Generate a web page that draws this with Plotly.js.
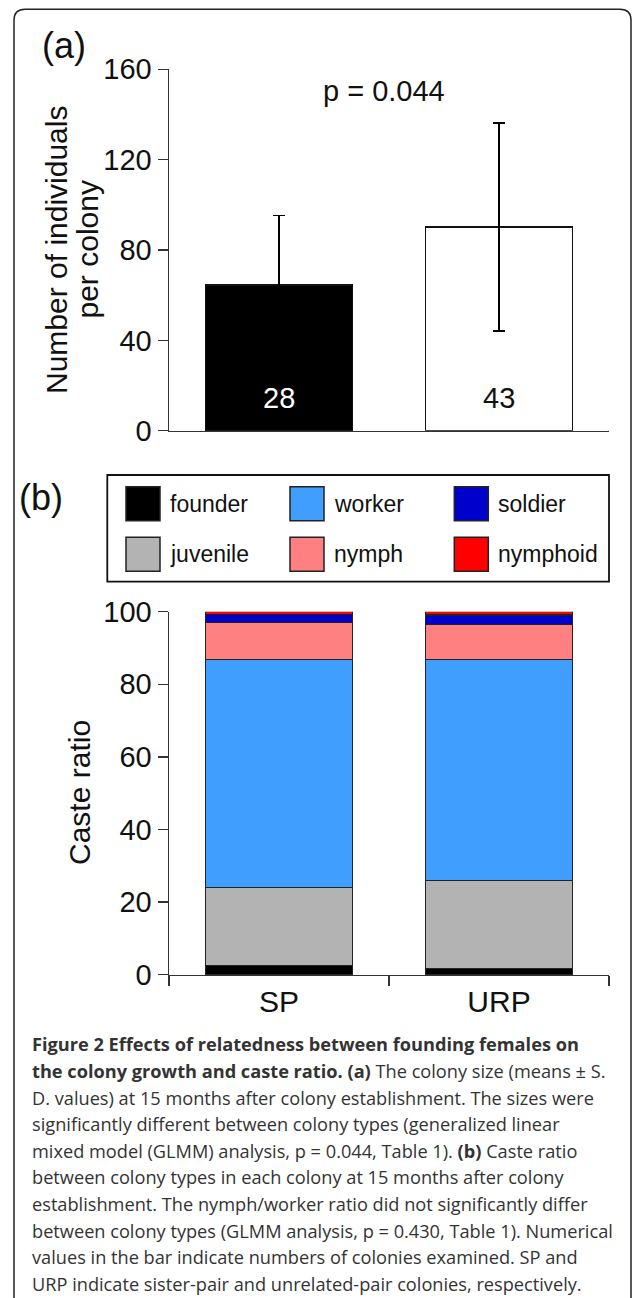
<!DOCTYPE html>
<html>
<head>
<meta charset="utf-8">
<script src="https://cdn.plot.ly/plotly-3.0.1.min.js"></script>
<style>
  html, body { margin: 0; padding: 0; background: #ffffff; }
  #chart { width: 633px; height: 1298px; }
</style>
</head>
<body>
<div id="chart"></div>
<script>
// ---------- data ----------
const categories = ['SP', 'URP'];
// panel (a): colony size, mean ± SD, number of colonies
const colonySize = [64.5, 90.2];
const colonySD = [30.7, 46.0];
const colonyN = [28, 43];
const sizeTicks = [0, 40, 80, 120, 160];
const pLabelA = 'p = 0.044';

// panel (b): caste ratio (%) stacked from bottom
const casteNames = ['founder', 'juvenile', 'worker', 'nymph', 'soldier', 'nymphoid'];
const founder  = [2.5, 1.7];
const juvenile = [21.5, 24.2];
const worker   = [62.8, 61.0];
const nymph    = [10.2, 9.6];
const soldier  = [2.3, 2.6];
const nymphoid = [0.7, 0.9];
const ratioTicks = [0, 20, 40, 60, 80, 100];
const legendOrder = ['founder', 'worker', 'soldier', 'juvenile', 'nymph', 'nymphoid'];

const captionLines = [
  '<b>Figure 2 Effects of relatedness between founding females on</b>',
  '<b>the colony growth and caste ratio. (a)</b> The colony size (means ± S.',
  'D. values) at 15 months after colony establishment. The sizes were',
  'significantly different between colony types (generalized linear',
  'mixed model (GLMM) analysis, p = 0.044, Table 1). <b>(b)</b> Caste ratio',
  'between colony types in each colony at 15 months after colony',
  'establishment. The nymph/worker ratio did not significantly differ',
  'between colony types (GLMM analysis, p = 0.430, Table 1). Numerical',
  'values in the bar indicate numbers of colonies examined. SP and',
  'URP indicate sister-pair and unrelated-pair colonies, respectively.'
];

// ---------- styles ----------
const W = 633, H = 1298;
const px = v => v / W;
const py = v => 1 - v / H;
const FONT = 'Liberation Sans, Arial, Helvetica, sans-serif';
const CAPFONT = 'Open Sans, Noto Sans, sans-serif';
const AX = '#333333';
const casteColors = {
  founder: '#000000', juvenile: '#b3b3b3', worker: '#409eff',
  nymph: '#ff8080', soldier: '#0000cc', nymphoid: '#ff0000'
};
const casteData = { founder, juvenile, worker, nymph, soldier, nymphoid };
const sizeFill = ['#000000', '#ffffff'];
const countColor = ['#ffffff', '#111111'];

// ---------- traces ----------
const traces = [];
traces.push({
  type: 'bar', x: categories, y: colonySize, xaxis: 'x', yaxis: 'y',
  width: 0.67, showlegend: false, hoverinfo: 'skip',
  marker: { color: sizeFill, line: { color: '#111111', width: 1.5 } },
  error_y: { type: 'data', array: colonySD, visible: true, color: '#000000', thickness: 1.5, width: 6 }
});
casteNames.forEach(name => {
  traces.push({
    type: 'bar', name: name, x: categories, y: casteData[name], xaxis: 'x2', yaxis: 'y2',
    width: 0.67, showlegend: false, hoverinfo: 'skip',
    marker: { color: casteColors[name], line: { color: '#222222', width: 1.3 } }
  });
});

// ---------- annotations ----------
const annotations = [];
const txt = (text, x, y, size, opts) => Object.assign({
  text: text, x: x, y: y, xref: 'paper', yref: 'paper', showarrow: false,
  xanchor: 'center', yanchor: 'middle', font: { family: FONT, size: size, color: '#111111' }
}, opts || {});

annotations.push(txt('(a)', px(40), py(46), 36, { xanchor: 'left' }));
annotations.push(txt('(b)', px(17), py(497), 36, { xanchor: 'left' }));
annotations.push(txt(pLabelA, px(384), py(91), 29));
annotations.push(txt('Number of individuals', px(57), py(250), 30, { textangle: -90 }));
annotations.push(txt('per colony', px(87.5), py(250), 30, { textangle: -90 }));
annotations.push(txt('Caste ratio', px(80), py(793), 30, { textangle: -90 }));
categories.forEach((c, i) => {
  annotations.push({
    text: String(colonyN[i]), x: c, xref: 'x', y: py(397.5), yref: 'paper',
    showarrow: false, xanchor: 'center', yanchor: 'middle',
    font: { family: FONT, size: 29, color: countColor[i] }
  });
});

// legend (built from the caste names and colours)
const shapes = [];
const legCols = [126, 290, 454.3];
const legRows = [486.7, 537.3];
const SW = 34;
legendOrder.forEach((name, k) => {
  const cx = legCols[k % 3], cy = legRows[Math.floor(k / 3)];
  shapes.push({
    type: 'rect', xref: 'paper', yref: 'paper',
    x0: px(cx), x1: px(cx + SW), y0: py(cy), y1: py(cy + SW),
    fillcolor: casteColors[name], line: { color: '#222222', width: 1.5 }
  });
  annotations.push(txt(name, px(cx + SW + 8), py(cy + SW / 2), 23, { xanchor: 'left' }));
});
shapes.push({
  type: 'rect', xref: 'paper', yref: 'paper',
  x0: px(107.3), x1: px(609), y0: py(475), y1: py(581.7),
  line: { color: '#111111', width: 1.8 }
});

// end ticks of panel (a) x axis
[-0.5, 1.5].forEach(v => {
  shapes.push({
    type: 'line', xref: 'x', yref: 'y', x0: v, x1: v, y0: 0, y1: -10,
    ysizemode: 'pixel', yanchor: 0, line: { color: AX, width: 1.5 }
  });
});

// outer frame (rounded, open at the bottom)
const fl = 14, ft = 9.3, fr = 631, r = 11;
shapes.push({
  type: 'path', xref: 'paper', yref: 'paper',
  path: `M ${px(fl)} ${py(H + 5)} L ${px(fl)} ${py(ft + r)} Q ${px(fl)} ${py(ft)} ${px(fl + r)} ${py(ft)} ` +
        `L ${px(fr - r)} ${py(ft)} Q ${px(fr)} ${py(ft)} ${px(fr)} ${py(ft + r)} L ${px(fr)} ${py(H + 5)}`,
  line: { color: '#222222', width: 1.5 }
});

// caption
captionLines.forEach((line, i) => {
  annotations.push({
    text: line, x: px(30.3), y: py(1044.3 + i * 26.6), xref: 'paper', yref: 'paper',
    showarrow: false, xanchor: 'left', yanchor: 'middle', align: 'left',
    font: { family: CAPFONT, size: 18.2, color: '#333333' }
  });
});

// ---------- layout ----------
const xDom = [px(169), px(609)];
const baseY = {
  showline: true, linecolor: AX, linewidth: 1.5, ticks: 'outside', ticklen: 10,
  tickwidth: 1.5, tickcolor: AX, showgrid: false, zeroline: false, fixedrange: true,
  tickfont: { family: FONT, size: 29, color: '#111111' }
};
const layout = {
  width: W, height: H, margin: { l: 0, r: 0, t: 0, b: 0 },
  paper_bgcolor: '#ffffff', plot_bgcolor: '#ffffff',
  barmode: 'stack', showlegend: false,
  xaxis: {
    domain: xDom, anchor: 'y', type: 'category', range: [-0.5, 1.5],
    showline: true, linecolor: AX, linewidth: 1.5, ticks: '', showticklabels: false,
    showgrid: false, zeroline: false, fixedrange: true
  },
  yaxis: Object.assign({}, baseY, {
    domain: [py(430.7), py(69.3)], anchor: 'x', range: [0, 160],
    tickmode: 'array', tickvals: sizeTicks
  }),
  xaxis2: {
    domain: xDom, anchor: 'y2', type: 'category', range: [-0.5, 1.5],
    showline: true, linecolor: AX, linewidth: 1.5, ticks: 'outside', ticklen: 10,
    tickwidth: 1.5, tickcolor: AX, tickson: 'boundaries',
    showgrid: false, zeroline: false, fixedrange: true,
    tickfont: { family: FONT, size: 30, color: '#111111' }
  },
  yaxis2: Object.assign({}, baseY, {
    domain: [py(974.7), py(611.7)], anchor: 'x2', range: [0, 100],
    tickmode: 'array', tickvals: ratioTicks
  }),
  annotations: annotations,
  shapes: shapes
};

Plotly.newPlot('chart', traces, layout, { displayModeBar: false, staticPlot: true });
</script>
</body>
</html>
